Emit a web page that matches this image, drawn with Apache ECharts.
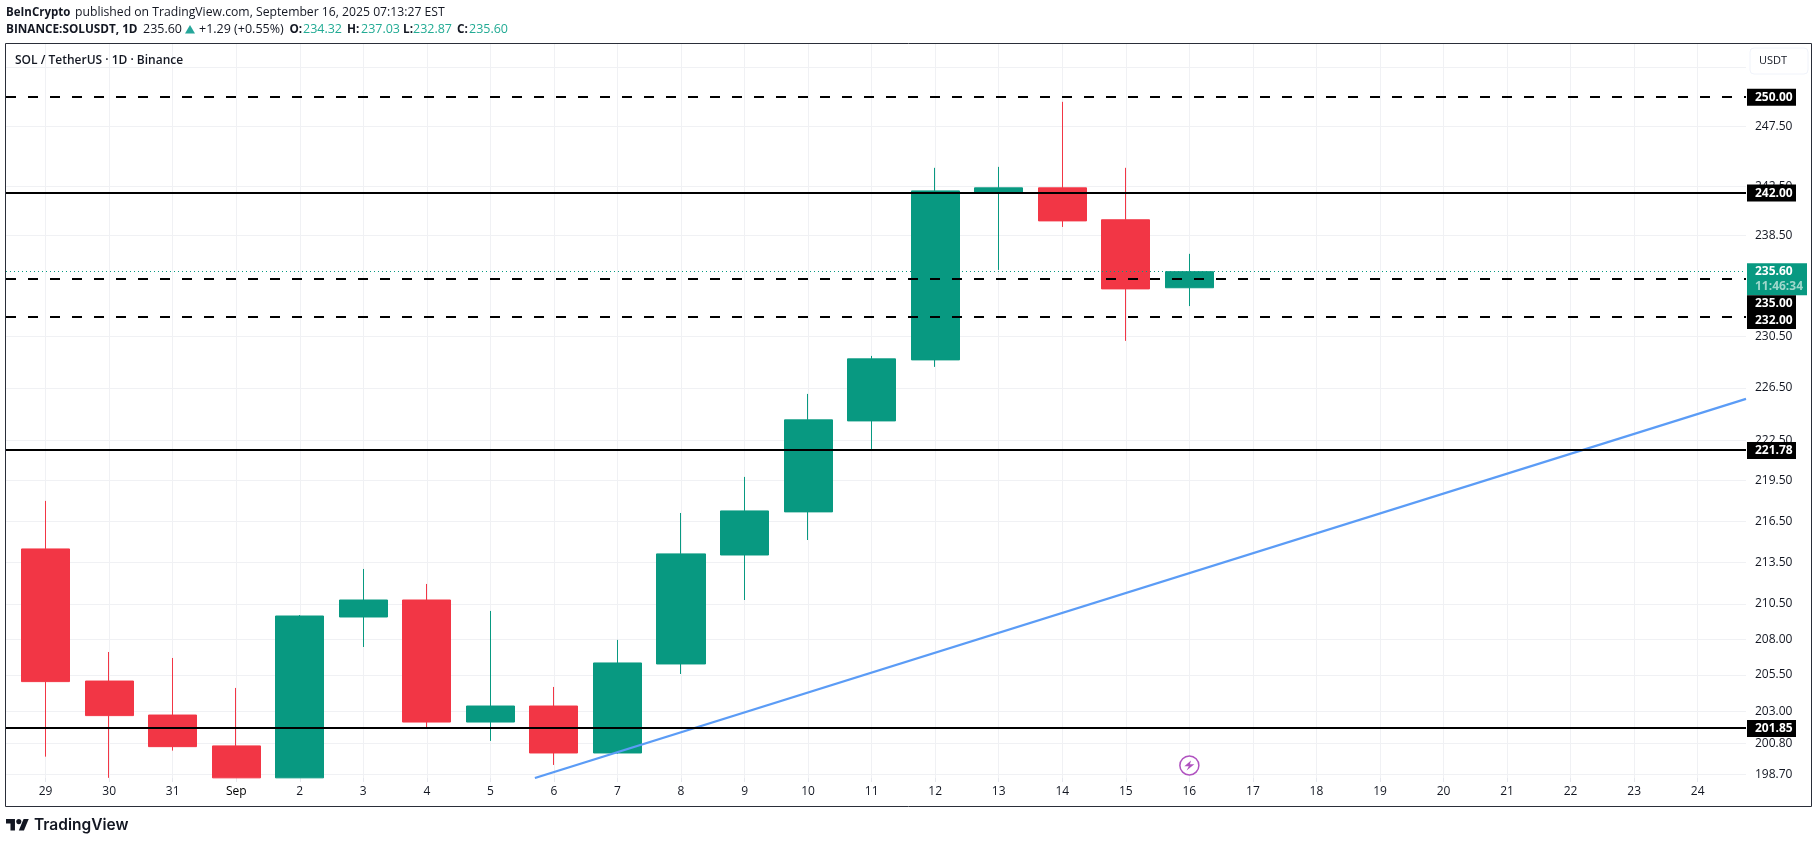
<!DOCTYPE html>
<html>
<head>
<meta charset="utf-8">
<title>SOL / TetherUS</title>
<script src="https://cdn.jsdelivr.net/npm/echarts@6/dist/echarts.min.js"></script>
<style>
html, body { margin: 0; padding: 0; background: #fff; }
#chart { width: 1819px; height: 843px; }
</style>
</head>
<body>
<div id="chart"></div>
<script>
// axis labels, one per day including the empty days on the right
var dayLabels = ['29', '30', '31', 'Sep', '2', '3', '4', '5', '6', '7', '8', '9', '10', '11', '12', '13', '14', '15', '16', '17', '18', '19', '20', '21', '22', '23', '24'];
var priceTicks = [198.7, 200.8, 203, 205.5, 208, 210.5, 213.5, 216.5, 219.5, 222.5, 226.5, 230.5, 238.5, 242.5, 247.5, 252.5];

// daily candles. values cut off by the pane bottom sit on its edge
var opens = [214.47, 205.08, 202.73, 200.62, 198.46, 209.58, 210.79, 202.25, 203.35, 200.14, 206.27, 214.03, 217.18, 223.98, 228.66, 242.05, 242.39, 239.78, 234.32];
var closes = [205.04, 202.69, 200.57, 198.46, 209.65, 210.79, 202.25, 203.35, 200.14, 206.34, 214.11, 217.25, 224.06, 228.74, 242.14, 242.39, 239.69, 234.23, 235.6];
var lows = [199.89, 198.46, 200.3, 198.46, 198.46, 207.46, 201.84, 200.96, 199.33, 200.1, 205.57, 210.79, 215.12, 221.86, 228.12, 235.74, 239.2, 230.14, 232.87];
var highs = [217.99, 207.11, 206.69, 204.6, 209.72, 213.02, 211.94, 210.01, 204.67, 207.96, 217.1, 219.77, 226.04, 228.97, 244.04, 244.12, 249.56, 244.04, 237.03];

var solidLevels = [242, 221.78, 201.85];
var dashedLevels = [250, 235, 232];
var lastPrice = 235.6;
var countdown = '11:46:34';

// blue trend line, day index and price at both ends
var trendDays = [7.7, 26.76];
var trendPrices = [198.45, 225.66];

var eventDay = 18;
var eventPrice = 199.3;

var UP = '#089981', DOWN = '#F23645', FONT = '"Open Sans", sans-serif', TEXT = '#131722', VALUE = '#22ab94';

function zip(a, b) {
    return a.map(function (v, i) { return [v, b[i]]; });
}

function candleData() {
    return opens.map(function (o, i) {
        return [i, o, closes[i], lows[i], highs[i]];
    });
}

function levelLine(value, dashed, labelOffset) {
    return {
        yAxis: value,
        lineStyle: dashed
            ? { color: '#000', width: 2, type: [10, 12] }
            : { color: '#000', width: 2, type: 'solid' },
        label: {
            show: true,
            position: 'end',
            distance: 1,
            formatter: value.toFixed(2),
            color: '#fff',
            backgroundColor: '#000',
            fontFamily: FONT,
            fontWeight: 'bold',
            fontSize: 12,
            width: 41,
            height: 17,
            lineHeight: 17,
            padding: [0, 0, 0, 8],
            offset: [0, labelOffset]
        }
    };
}

var lastPriceLine = {
    yAxis: lastPrice,
    lineStyle: { color: UP, width: 1, type: [1, 3] },
    label: {
        show: true,
        position: 'end',
        distance: 1,
        formatter: lastPrice.toFixed(2) + '\n{t|' + countdown + '}',
        color: '#fff',
        backgroundColor: UP,
        fontFamily: FONT,
        fontWeight: 'bold',
        fontSize: 12,
        width: 52,
        lineHeight: 15,
        padding: [1, 0, 1, 8],
        offset: [0, 7.5],
        rich: {
            t: { color: '#9fd8cc', fontFamily: FONT, fontWeight: 'bold', fontSize: 12, lineHeight: 15 }
        }
    }
};

// one piece of header text
function headText(x, y, text, font, color) {
    return { type: 'text', z: 23, x: x, y: y, style: { text: text, fill: color || TEXT, font: font + ' ' + FONT, verticalAlign: 'middle' } };
}

var chart = echarts.init(document.getElementById('chart'));
chart.setOption({
    animation: false,
    backgroundColor: '#fff',
    grid: { left: 6, right: 73, top: 44, bottom: 65 },
    xAxis: {
        type: 'value',
        min: -0.623,
        max: 26.76,
        axisLine: { show: false },
        axisTick: { show: true, length: 4, lineStyle: { color: '#e6e8ee' }, customValues: dayLabels.map(function (d, i) { return i; }) },
        splitLine: { show: true, lineStyle: { color: '#f0f1f4', width: 1 } },
        axisLabel: {
            customValues: dayLabels.map(function (d, i) { return i; }),
            margin: 8,
            fontFamily: FONT,
            fontSize: 12,
            color: TEXT,
            formatter: function (v) {
                var label = dayLabels[Math.round(v)];
                return label === 'Sep' ? '{m|Sep}' : label;
            },
            rich: { m: { fontFamily: FONT, fontSize: 12, fontWeight: 500, color: '#000' } }
        }
    },
    yAxis: {
        type: 'log',
        position: 'right',
        min: 198.45,
        max: 254.5,
        axisLine: { show: false },
        axisTick: { show: false, customValues: priceTicks },
        splitLine: { show: true, lineStyle: { color: '#f0f1f4', width: 1 } },
        axisLabel: {
            customValues: priceTicks,
            margin: 9,
            fontFamily: FONT,
            fontSize: 12,
            color: TEXT,
            formatter: function (v) { return Number(v).toFixed(2); }
        }
    },
    series: [
        {
            name: 'SOLUSDT',
            type: 'candlestick',
            barWidth: 48.6,
            z: 2,
            itemStyle: { color: UP, color0: DOWN, borderColor: UP, borderColor0: DOWN, borderWidth: 1 },
            data: candleData()
        },
        {
            name: 'levels',
            type: 'line',
            data: [],
            z: 3,
            markLine: {
                silent: true,
                symbol: 'none',
                animation: false,
                data: [
                    lastPriceLine,
                    levelLine(dashedLevels[0], true, 0.5),
                    levelLine(dashedLevels[1], true, 24.5),
                    levelLine(dashedLevels[2], true, 3.5),
                    levelLine(solidLevels[0], false, 0.5),
                    levelLine(solidLevels[1], false, 0.5),
                    levelLine(solidLevels[2], false, 0.5)
                ]
            }
        },
        {
            name: 'trend',
            type: 'line',
            z: 4,
            symbol: 'none',
            lineStyle: { color: '#5B9CF6', width: 2.2 },
            data: zip(trendDays, trendPrices)
        },
        {
            name: 'event ring',
            type: 'scatter',
            z: 5,
            symbol: 'circle',
            symbolSize: 19,
            itemStyle: { color: '#fff', borderColor: '#9C27B0', borderWidth: 1.5 },
            data: [[eventDay, eventPrice]]
        },
        {
            name: 'event bolt',
            type: 'scatter',
            z: 6,
            symbol: 'path://M7 0 L1 7 L5 7 L3 12 L10 4.5 L6 4.5 Z',
            symbolSize: [10, 10],
            itemStyle: { color: '#9C27B0' },
            data: [[eventDay, eventPrice]]
        }
    ],
    graphic: [
        // price pane bottom corner covers the clipped lowest tick label
        { type: 'rect', z: 20, shape: { x: 1747, y: 778, width: 64, height: 28 }, style: { fill: '#fff' } },
        { type: 'rect', z: 21, shape: { x: 5.5, y: 43.5, width: 1806, height: 763 }, style: { fill: 'none', stroke: '#2a2e39', lineWidth: 1 } },
        { type: 'rect', z: 22, shape: { x: 1750, y: 48, width: 58, height: 26, r: 4 }, style: { fill: '#fff', stroke: '#f0f3fa', lineWidth: 1 } },
        { type: 'text', z: 23, x: 1759, y: 61, style: { text: 'USDT', fill: TEXT, font: '11px ' + FONT, verticalAlign: 'middle' } },

        headText(6, 12.5, 'BeInCrypto', 'bold 11.5px'),
        headText(75, 12.5, 'published on TradingView.com, September 16, 2025 07:13:27 EST', '12.2px'),
        headText(6, 29.5, 'BINANCE:SOLUSDT, 1D', 'bold 11.75px'),
        headText(143, 29.5, '235.60', '12.5px'),
        { type: 'polygon', z: 23, shape: { points: [[185, 33.5], [195, 33.5], [190, 25]] }, style: { fill: '#26a69a' } },
        headText(199, 29.5, '+1.29 (+0.55%)', '12.5px'),
        headText(289.5, 29.5, 'O:', 'bold 11.75px'),
        headText(303, 29.5, '234.32', '12.5px', VALUE),
        headText(347, 29.5, 'H:', 'bold 11.75px'),
        headText(361, 29.5, '237.03', '12.5px', VALUE),
        headText(403, 29.5, 'L:', 'bold 11.75px'),
        headText(413, 29.5, '232.87', '12.5px', VALUE),
        headText(457, 29.5, 'C:', 'bold 11.75px'),
        headText(469, 29.5, '235.60', '12.5px', VALUE),

        { type: 'text', z: 23, x: 15, y: 60.5, style: { text: 'SOL / TetherUS · 1D · Binance', fill: TEXT, font: '600 12px ' + FONT, verticalAlign: 'middle' } },
        // TradingView logo: T, dot and slash
        { type: 'polygon', z: 23, x: 6, y: 816.5, scaleX: 0.64, scaleY: 0.64, shape: { points: [[0, 4], [14, 4], [14, 22], [7, 22], [7, 11], [0, 11]] }, style: { fill: '#131722' } },
        { type: 'polygon', z: 23, x: 6, y: 816.5, scaleX: 0.64, scaleY: 0.64, shape: { points: [[27.5, 4], [35.5, 4], [28, 22], [20, 22]] }, style: { fill: '#131722' } },
        { type: 'circle', z: 23, x: 6, y: 816.5, scaleX: 0.64, scaleY: 0.64, shape: { cx: 20, cy: 8, r: 4 }, style: { fill: '#131722' } },
        { type: 'text', z: 23, x: 34, y: 825.5, style: { text: 'TradingView', fill: '#131722', font: '600 15.5px Inter, sans-serif', verticalAlign: 'middle' } }
    ]
});
</script>
</body>
</html>
